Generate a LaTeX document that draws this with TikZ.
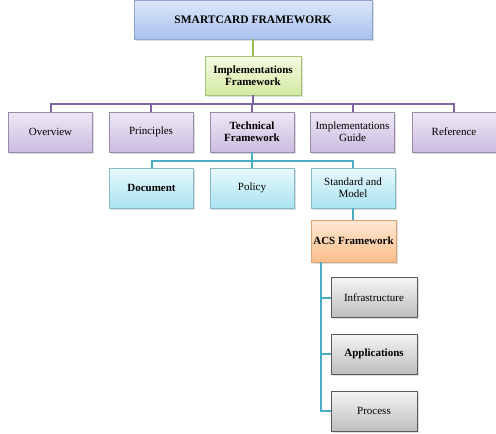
\documentclass[tikz,border=0pt]{standalone}
\usepackage{fontspec}
\setmainfont{Liberation Serif}
\usetikzlibrary{shadows}
\definecolor{blueTop}{HTML}{DCE6F8}
\definecolor{blueBot}{HTML}{A9C2EE}
\definecolor{blueEdge}{HTML}{8EA6CF}
\definecolor{greenTop}{HTML}{F4FBE2}
\definecolor{greenBot}{HTML}{D3EAA2}
\definecolor{greenEdge}{HTML}{A9C27A}
\definecolor{greenLine}{HTML}{9BBB59}
\definecolor{purpTop}{HTML}{EEE9F5}
\definecolor{purpBot}{HTML}{CBBCDF}
\definecolor{purpEdge}{HTML}{9A8AAE}
\definecolor{purpLine}{HTML}{8064A2}
\definecolor{cyanTop}{HTML}{EAF9FC}
\definecolor{cyanBot}{HTML}{A8E3F1}
\definecolor{cyanEdge}{HTML}{86B9C6}
\definecolor{tealLine}{HTML}{4BACC6}
\definecolor{orgTop}{HTML}{FEE8D4}
\definecolor{orgBot}{HTML}{FBBE8A}
\definecolor{orgEdge}{HTML}{D9A57A}
\definecolor{grayTop}{HTML}{F4F4F4}
\definecolor{grayBot}{HTML}{BEBEBE}
\definecolor{grayEdge}{HTML}{5A5A5A}
\tikzset{
  x=1pt, y=-1pt,
  txt/.style={font=\fontsize{11}{12}\selectfont},
  btxt/.style={font=\fontsize{11}{12}\selectfont\bfseries},
  box/.style={rectangle, align=center, inner sep=1pt, txt,
    drop shadow={opacity=0.28, shadow xshift=1.5pt, shadow yshift=-1.5pt}},
  topbox/.style={box, draw=blueEdge, top color=blueTop, bottom color=blueBot,
    minimum width=238pt, minimum height=39pt, font=\fontsize{11.5}{13}\selectfont\bfseries},
  implbox/.style={box, draw=greenEdge, top color=greenTop, bottom color=greenBot,
    minimum width=96pt, minimum height=39pt, btxt},
  purpbox/.style={box, draw=purpEdge, top color=purpTop, bottom color=purpBot,
    minimum width=84pt, minimum height=40pt},
  cyanbox/.style={box, draw=cyanEdge, top color=cyanTop, bottom color=cyanBot,
    minimum width=84pt, minimum height=40pt},
  orgbox/.style={box, draw=orgEdge, top color=orgTop, bottom color=orgBot,
    minimum width=85pt, minimum height=42pt, btxt},
  graybox/.style={box, draw=grayEdge, top color=grayTop, bottom color=grayBot,
    minimum width=86pt, minimum height=40pt},
  greenlink/.style={draw=greenLine, line width=2pt},
  purplink/.style={draw=purpLine, line width=2pt},
  teallink/.style={draw=tealLine, line width=2pt},
}
\begin{document}
\begin{tikzpicture}
\useasboundingbox (0,0) rectangle (496,434);

% root and second level
\node[topbox] (root) at (253,19.5) {SMARTCARD FRAMEWORK};
\node[implbox] (impl) at (253,75.5) {Implementations\\Framework};

% third level
\node[purpbox] (over) at (50.5,132) {Overview};
\node[purpbox] (prin) at (151,132) {Principles};
\node[purpbox, btxt] (tech) at (252,132) {Technical\\Framework};
\node[purpbox] (guide) at (352.5,132) {Implementations\\Guide};
\node[purpbox] (ref) at (454,132) {Reference};

% technical framework children
\node[cyanbox, btxt] (doc) at (151.5,188) {Document};
\node[cyanbox] (pol) at (252,188) {Policy};
\node[cyanbox] (std) at (353,188) {Standard and\\Model};

% ACS framework and its parts
\node[orgbox] (acs) at (353.5,241) {ACS Framework};
\node[graybox] (infra) at (374,297.5) {Infrastructure};
\node[graybox, btxt] (app) at (374,354) {Applications};
\node[graybox] (proc) at (374,411) {Process};

\coordinate (busA) at (253,104);
\coordinate (busB) at (252,161);
\coordinate (spine) at (321,262);

% connectors
\draw[greenlink] (root.south) -- (impl.north);

\draw[purplink] (impl.south) -- (busA);
\draw[purplink] (over.north) |- (busA) -| (ref.north);
\draw[purplink] (prin.north) -- (prin.north |- busA);
\draw[purplink] (tech.north) -- (tech.north |- busA);
\draw[purplink] (guide.north) -- (guide.north |- busA);

\draw[teallink] (tech.south) -- (busB);
\draw[teallink] (doc.north) |- (busB) -| (std.north);
\draw[teallink] (pol.north) -- (pol.north |- busB);

\draw[teallink] (std.south) -- (acs.north -| std.south);
\draw[teallink] (spine) |- (proc.west);
\draw[teallink] (spine |- infra.west) -- (infra.west);
\draw[teallink] (spine |- app.west) -- (app.west);
\end{tikzpicture}
\end{document}
